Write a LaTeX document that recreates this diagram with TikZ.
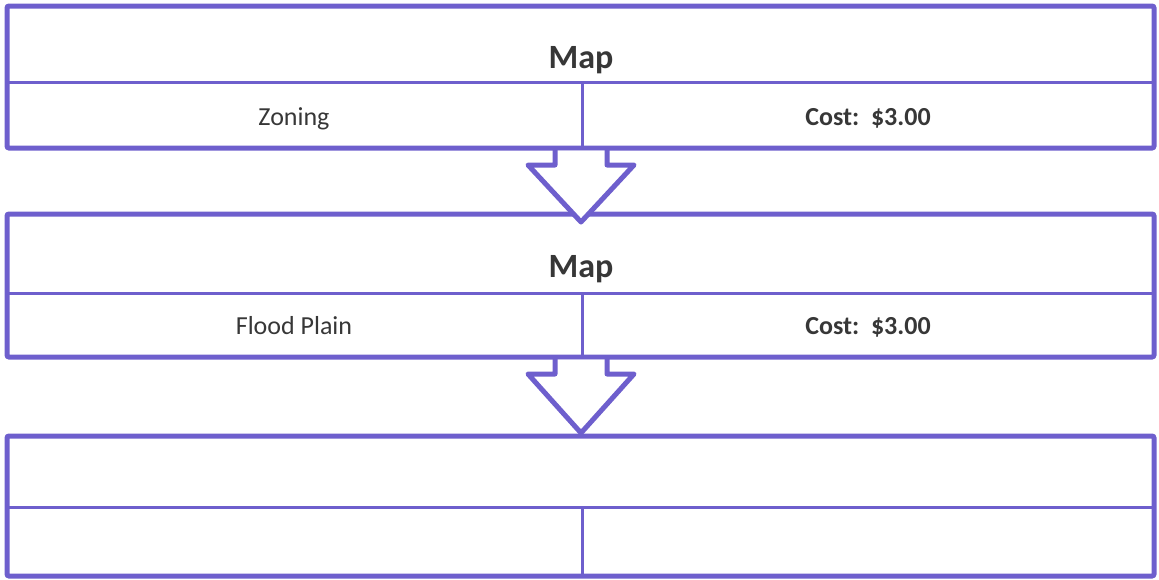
\documentclass[tikz,border=0pt]{standalone}
\usepackage{fontspec}
\setmainfont{Carlito}
\usetikzlibrary{calc}
\definecolor{frame}{RGB}{110,95,205}
\definecolor{ink}{RGB}{55,55,55}
\begin{document}
\begin{tikzpicture}[x=1pt,y=-1pt,
  outer/.style={draw=frame,line width=5pt,rounded corners=2pt},
  inner/.style={draw=frame,line width=3pt},
  arrowline/.style={draw=frame,line width=5pt,line join=round},
  title/.style={anchor=base,inner sep=0pt,text=ink,font=\fontsize{34}{40}\selectfont\bfseries},
  plain/.style={anchor=base,inner sep=0pt,text=ink,font=\fontsize{26}{31}\selectfont},
  cost/.style={anchor=base,inner sep=0pt,text=ink,font=\fontsize{26}{31}\selectfont\bfseries}]
\useasboundingbox (0,0) rectangle (1159,579);
% boxes
\foreach \t/\m/\b in {6/82/148, 214/293/357, 436/507/576} {
  \draw[inner] (7,\m) -- (1154,\m);
  \draw[inner] (582,\m) -- (582,\b);
  \draw[outer] (7,\t) rectangle (1154,\b);
}
% texts
\node[title] (map1) at (581,68) {Map};
\node[plain] (zon) at (294,125) {Zoning};
\node[cost] (cost1) at (868,125) {Cost:\ \ \$3.00};
\node[title] (map2) at (581,277) {Map};
\node[plain] (flood) at (294,334) {Flood Plain};
\node[cost] (cost2) at (868,334) {Cost:\ \ \$3.00};
% arrows
\coordinate (a1) at (581,148);
\coordinate (a2) at (581,357);
\foreach \a/\d in {a1/74, a2/76} {
  \fill[white] ($(\a)+(-26,2.5)$) -- ($(\a)+(-26,17)$) -- ($(\a)+(-53,17)$)
    -- ($(\a)+(0,\d)$) -- ($(\a)+(53,17)$) -- ($(\a)+(26,17)$)
    -- ($(\a)+(26,2.5)$) -- cycle;
  \draw[arrowline] ($(\a)+(-26,0)$) -- ($(\a)+(-26,17)$) -- ($(\a)+(-53,17)$)
    -- ($(\a)+(0,\d)$) -- ($(\a)+(53,17)$) -- ($(\a)+(26,17)$)
    -- ($(\a)+(26,0)$);
}
\end{tikzpicture}
\end{document}
